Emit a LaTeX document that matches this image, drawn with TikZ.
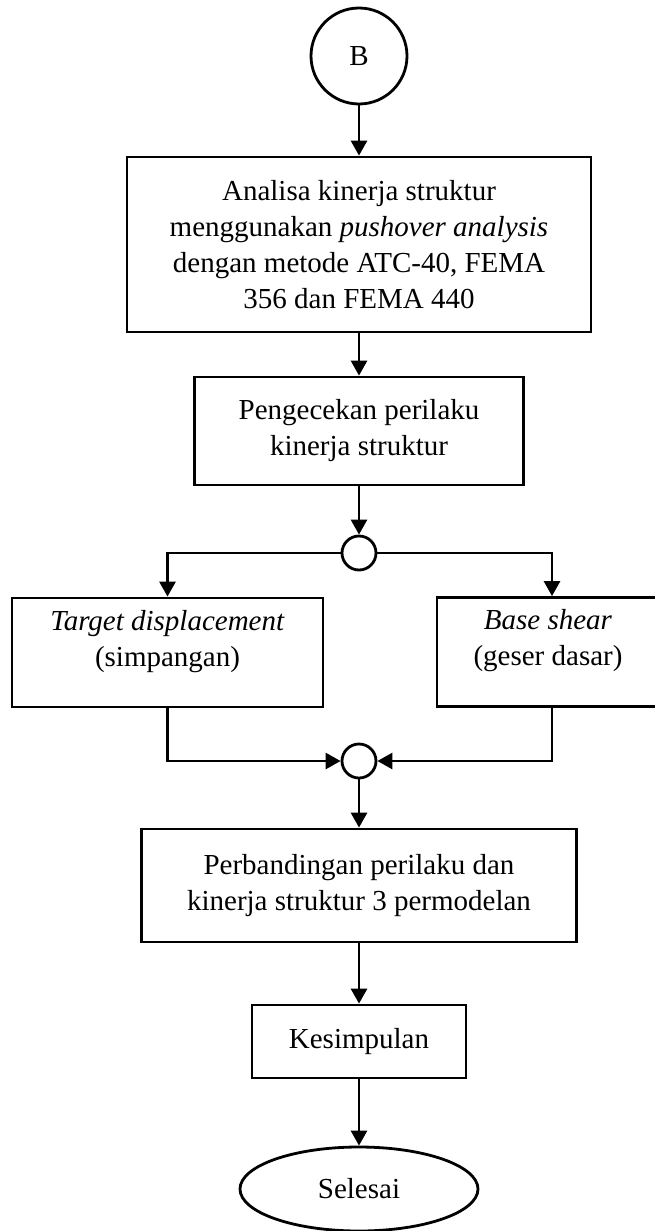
\documentclass[tikz,border=0pt]{standalone}
\usepackage{fontspec}
\setmainfont{Liberation Serif}
\usetikzlibrary{shapes.geometric,arrows.meta}
\begin{document}
\begin{tikzpicture}[x=1pt,y=-1pt,line width=2.8pt,font=\fontsize{29}{36}\selectfont]
\tikzstyle{kotak}=[draw,rectangle,align=center,inner sep=0pt]
\tikzstyle{simpul}=[draw,circle,inner sep=0pt,minimum size=34pt]
\tikzstyle{panah}=[-{Triangle[length=15pt,width=16pt]}]
\useasboundingbox (0,0) rectangle (654,1231);
  \node[draw,circle,minimum size=96pt,inner sep=0pt] (b) at (359,56) {B};
  \node[kotak,minimum width=464pt,minimum height=175pt] (analisa) at (359,244.5)
    {Analisa kinerja struktur\\ menggunakan \textit{pushover analysis}\\
     dengan metode ATC-40, FEMA\\ 356 dan FEMA 440};
  \node[kotak,minimum width=329pt,minimum height=108pt] (cek) at (359,431)
    {Pengecekan perilaku\\ kinerja struktur};
  \node[simpul] (j1) at (359,553) {};
  \node[kotak,minimum width=311pt,minimum height=109pt,
        label={[align=center,yshift=11pt]center:{\textit{Target displacement}\\ (simpangan)}}]
    (lbox) at (167.5,652.5) {};
  \node[kotak,minimum width=230pt,minimum height=109pt,
        label={[align=center,yshift=11pt,xshift=-4pt]center:{\textit{Base shear}\\ (geser dasar)}}]
    (rbox) at (552,652) {};
  \node[simpul] (j2) at (359,761) {};
  \node[kotak,minimum width=435pt,minimum height=113pt] (banding) at (359,885.5)
    {Perbandingan perilaku dan\\ kinerja struktur 3 permodelan};
  \node[kotak,minimum width=214pt,minimum height=73pt] (simpulan) at (359,1041.5)
    {Kesimpulan};
  \node[draw,ellipse,minimum width=238pt,minimum height=84pt,inner sep=0pt] (selesai) at (359,1189)
    {Selesai};
  \foreach \source/\dest in {b/analisa,analisa/cek,cek/j1,j2/banding,banding/simpulan,simpulan/selesai}
      \draw[panah] (\source) -- (\dest);
  \draw[panah] (j1.west) -| (lbox.north);
  \draw[panah] (j1.east) -| (rbox.north);
  \draw[panah] (lbox.south) |- (j2.west);
  \draw[panah] (rbox.south) |- (j2.east);
\end{tikzpicture}
\end{document}
